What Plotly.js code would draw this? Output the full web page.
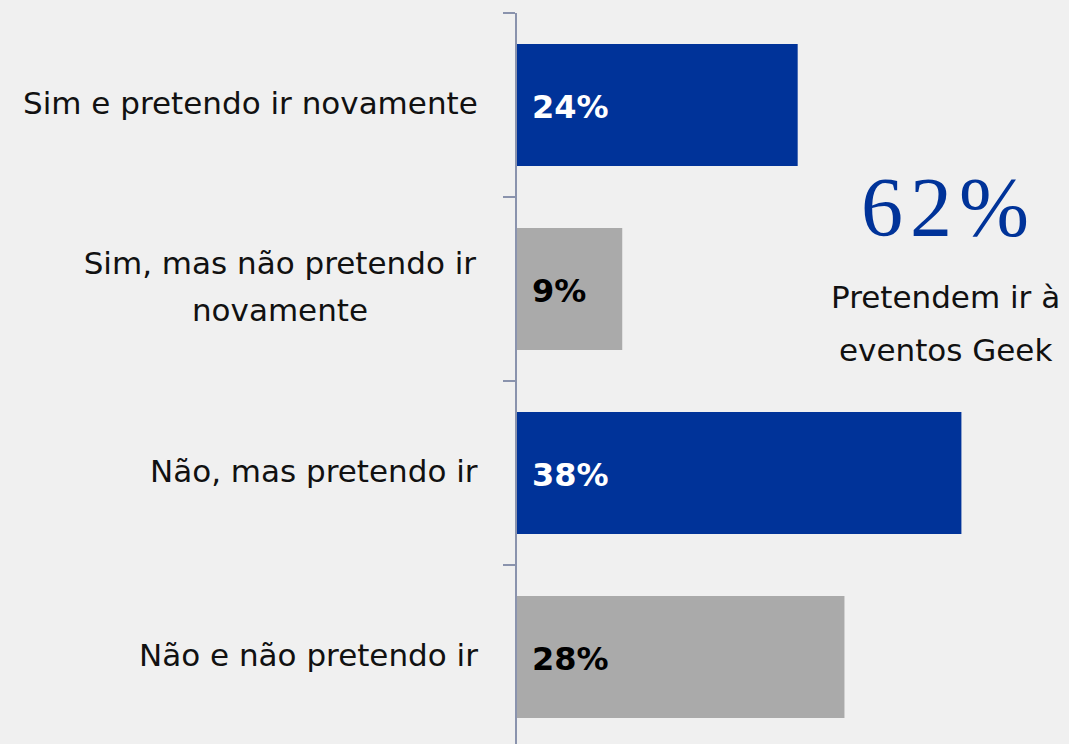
<!DOCTYPE html>
<html><head><meta charset="utf-8">
<script src="https://cdn.plot.ly/plotly-3.0.1.min.js"></script>
<style>html,body{margin:0;padding:0;background:#f0f0f0;}</style>
</head><body><div id="chart" style="width:1069px;height:744px;"></div>
<script>
const categories = ["Sim e pretendo ir novamente", "Sim, mas não pretendo ir<br>novamente", "Não, mas pretendo ir", "Não e não pretendo ir"];
const values = [24, 9, 38, 28];
const barColors = ["#003399", "#aaaaaa", "#003399", "#aaaaaa"];
const labelColors = ["#ffffff", "#000000", "#ffffff", "#000000"];
const sideLines = ["Pretendem ir à", "eventos Geek"];
const intendTotal = values[0] + values[2];

const LABEL_FONT = "DejaVu Sans, sans-serif";
const trace = {
  type: "bar", orientation: "h",
  y: categories, x: values,
  marker: {color: barColors},
  width: 0.663,
  hoverinfo: "skip"
};
const annotations = [];
categories.forEach((c, i) => {
  const lines = c.split("<br>");
  lines.forEach((ln, k) => {
    const a = {
      xref: "paper", yref: "y", x: 0, y: c, xanchor: "right", yanchor: "middle",
      xshift: -37, yshift: -((k - (lines.length - 1) / 2) * 47) + 2, align: "center", showarrow: false, text: ln,
      font: {family: LABEL_FONT, size: 31, color: "#111111"}
    };
    if (lines.length > 1) { a.width = 398; a.xshift = -36; }
    annotations.push(a);
  });
  annotations.push({
    xref: "x", yref: "y", x: 0, y: c, xanchor: "left", yanchor: "middle",
    xshift: 13, yshift: -2, showarrow: false, text: values[i] + "%",
    font: {family: LABEL_FONT, size: 32, weight: "bold", color: labelColors[i]}
  });
});
annotations.push({
  xref: "paper", yref: "paper", x: 0.7745, y: 1 - (207 - 13) / 731, xanchor: "center", yanchor: "middle",
  showarrow: false, text: String(intendTotal).split("").join("\u200A") + "\u200A%",
  font: {family: "Liberation Serif, Times New Roman, serif", size: 84, color: "#003399"}
});
sideLines.forEach((t, k) => {
  annotations.push({
    xref: "paper", yref: "paper", x: 0.7765, y: 1 - ((297 + 53 * k) - 13) / 731, xanchor: "center", yanchor: "middle",
    showarrow: false, text: t,
    font: {family: LABEL_FONT, size: 31, color: "#111111"}
  });
});

const layout = {
  width: 1069, height: 744,
  margin: {l: 517, r: 0, t: 13, b: 0},
  paper_bgcolor: "#f0f0f0", plot_bgcolor: "#f0f0f0",
  showlegend: false,
  xaxis: {range: [0, 47.2], visible: false, fixedrange: true},
  yaxis: {
    type: "category", range: [3.473, -0.5],
    showticklabels: false, showgrid: false, zeroline: false,
    showline: true, linecolor: "#8a93ad", linewidth: 2,
    ticks: "outside", tickson: "boundaries", ticklen: 12, tickwidth: 2, tickcolor: "#8a93ad"
  },
  annotations: annotations
};
Plotly.newPlot("chart", [trace], layout, {displayModeBar: false, staticPlot: true});
</script></body></html>
